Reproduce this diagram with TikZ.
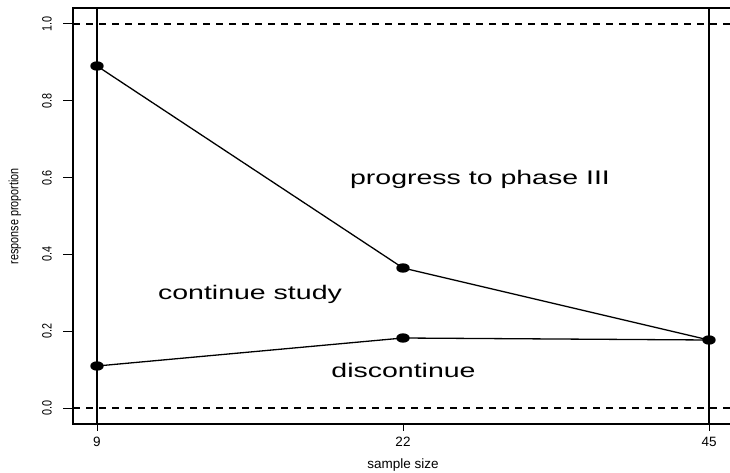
\documentclass[tikz,border=0pt]{standalone}
\usepackage{fontspec}
\setmainfont{Liberation Sans}
\usepackage{graphicx}
\usetikzlibrary{shapes.geometric}
\newcommand{\bigtxt}[1]{\scalebox{1}[0.69]{\fontsize{28.5}{30}\selectfont #1}}
\newcommand{\smtxt}[1]{{\fontsize{13.5}{15}\selectfont #1}}
\newcommand{\rottxt}[1]{\rotatebox{90}{\scalebox{0.8}[1]{\fontsize{13.5}{15}\selectfont #1}}}
\begin{document}
\begin{tikzpicture}[x=1pt,y=-1pt,
  frame/.style={line width=1.4pt},
  vline/.style={line width=1.8pt},
  dline/.style={line width=1.3pt},
  dashline/.style={line width=1.1pt,dash pattern=on 7pt off 6pt},
  tickmark/.style={line width=1pt},
  dot/.style={ellipse,fill=black,draw=none,inner sep=0pt,minimum width=13.4pt,minimum height=9.4pt},
  lab/.style={inner sep=0pt,anchor=base}]
\useasboundingbox (0,0) rectangle (730,473);
\clip (0,0) rectangle (730,473);
% frame
\draw[frame] (740,8) -- (73,8) -- (73,424) -- (740,424);
% reference lines
\coordinate (d0l) at (73,408); \coordinate (d0r) at (740,408);
\coordinate (d1l) at (73,24);  \coordinate (d1r) at (740,24);
\draw[dashline] (d0l) -- (d0r);
\draw[dashline] (d1l) -- (d1r);
\coordinate (v1t) at (97,8);  \coordinate (v1b) at (97,424);
\coordinate (v3t) at (709,8); \coordinate (v3b) at (709,424);
\draw[vline] (v1t) -- (v1b);
\draw[vline] (v3t) -- (v3b);
% y ticks
\foreach \v/\t in {0/0.0,0.2/0.2,0.4/0.4,0.6/0.6,0.8/0.8,1/1.0}{
  \draw[tickmark] (63,{408-384*\v}) -- (73,{408-384*\v});
  \node[inner sep=0pt] (yl\t) at (47,{408-384*\v}) {\rottxt{\t}};
}
% x ticks
\foreach \x/\t in {97/9,403/22,709/45}{
  \draw[tickmark] (\x,424) -- (\x,431);
  \node[lab] (xl\t) at (\x,446) {\smtxt{\t}};
}
\node[lab] (xlab) at (403,468) {\smtxt{sample size}};
\node[inner sep=0pt] (ylab) at (15,216) {\rottxt{response proportion}};
% data
\coordinate (a1) at (97,66);
\coordinate (a2) at (403,268);
\coordinate (a3) at (709,340);
\coordinate (b1) at (97,366);
\coordinate (b2) at (403,338);
\draw[dline] (a1) -- (a2) -- (a3);
\draw[dline] (b1) -- (b2) -- (a3);
\foreach \p in {a1,a2,a3,b1,b2}{\node[dot] at (\p) {};}
% region labels
\node[lab] (t1) at (480,184) {\bigtxt{progress to phase III}};
\node[lab] (t2) at (250,299) {\bigtxt{continue study}};
\node[lab] (t3) at (403.5,377) {\bigtxt{discontinue}};
\end{tikzpicture}
\end{document}
